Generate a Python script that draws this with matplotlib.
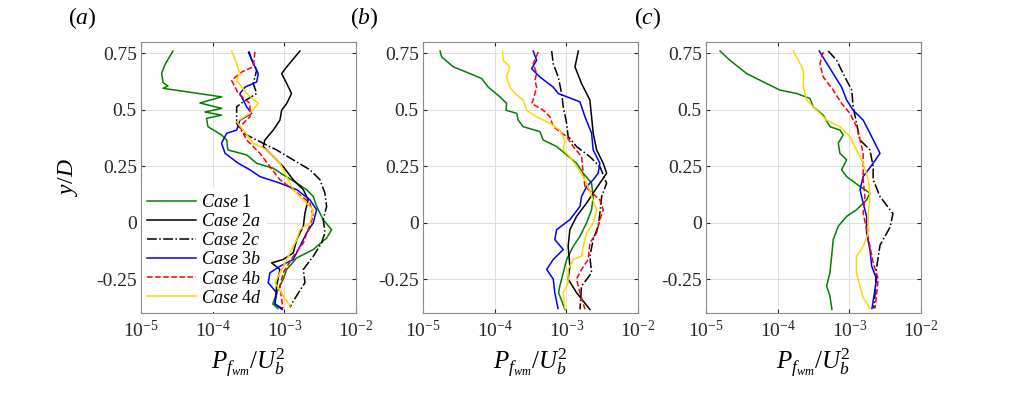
import numpy as np
import matplotlib
matplotlib.use('Agg')
import matplotlib.pyplot as plt
import matplotlib.ticker as ticker

# %%
plt.rcParams['font.family'] = ['Liberation Serif', 'DejaVu Serif']
plt.rcParams['mathtext.fontset'] = 'custom'
plt.rcParams['mathtext.rm'] = 'Liberation Serif'
plt.rcParams['mathtext.it'] = 'Liberation Serif:italic'
plt.rcParams['mathtext.bf'] = 'Liberation Serif:bold'
plt.rcParams['axes.unicode_minus'] = False

# %% data, P values in units of 1e-3
# panel (a)
a_y1 = [0.76, 0.70, 0.66, 0.62, 0.605, 0.595, 0.557, 0.53, 0.506, 0.49, 0.476, 0.462, 0.425, 0.388, 0.366,
        0.322, 0.30, 0.263, 0.241, 0.212, 0.175, 0.146, 0.116, 0.072, 0.013, -0.031, -0.068, -0.119, -0.156,
        -0.207, -0.25, -0.30, -0.36, -0.38]
a_p1 = [0.0279, 0.0216, 0.0194, 0.0203, 0.0238, 0.0203, 0.1335, 0.0665, 0.1335, 0.078, 0.133, 0.082, 0.086,
        0.133, 0.157, 0.163, 0.298, 0.411, 0.70, 0.965, 1.49, 2.05, 2.53, 2.82, 3.49, 4.57, 3.89, 2.53, 1.49,
        1.08, 0.965, 0.81, 0.69, 0.81]
a_y2a = [0.76, 0.69, 0.66, 0.616, 0.572, 0.528, 0.498, 0.454, 0.41, 0.366, 0.337, 0.30, 0.248, 0.19, 0.146,
         0.101, 0.043, -0.016, -0.075, -0.134, -0.163, -0.178, -0.207, -0.281, -0.36, -0.384]
a_p2a = [1.65, 1.08, 0.917, 1.08, 1.26, 1.08, 0.917, 0.868, 0.70, 0.536, 0.508, 0.665, 0.965, 1.33, 1.84,
         2.15, 1.94, 1.84, 1.49, 1.33, 0.965, 0.665, 0.868, 0.78, 0.74, 0.93]
a_y2c = [0.756, 0.675, 0.616, 0.572, 0.535, 0.513, 0.44, 0.396, 0.366, 0.322, 0.278, 0.234, 0.19, 0.131,
         0.072, 0.013, -0.045, -0.09, -0.149, -0.207, -0.266, -0.30, -0.35, -0.375]
a_p2c = [0.314, 0.411, 0.368, 0.411, 0.267, 0.216, 0.216, 0.267, 0.411, 0.78, 1.33, 2.28, 3.14, 3.68, 3.89,
         3.49, 3.68, 3.31, 2.53, 1.84, 1.94, 1.65, 1.32, 1.20]
a_y3b = [0.756, 0.72, 0.66, 0.623, 0.60, 0.572, 0.513, 0.484, 0.454, 0.41, 0.396, 0.352, 0.307, 0.263, 0.234,
         0.204, 0.175, 0.146, 0.101, 0.057, -0.001, -0.045, -0.105, -0.163, -0.193, -0.222, -0.266, -0.31,
         -0.36, -0.38]
a_p3b = [0.324, 0.35, 0.433, 0.411, 0.282, 0.24, 0.298, 0.35, 0.24, 0.216, 0.157, 0.133, 0.149, 0.228, 0.331,
         0.457, 0.868, 1.49, 2.28, 2.82, 2.53, 2.05, 1.65, 1.33, 0.868, 0.63, 0.596, 0.78, 0.74, 0.93]
a_y4b = [0.756, 0.69, 0.667, 0.63, 0.572, 0.528, 0.469, 0.425, 0.366, 0.307, 0.248, 0.19, 0.146, 0.087, 0.028,
         -0.031, -0.09, -0.149, -0.222, -0.281, -0.38]
a_p4b = [0.389, 0.368, 0.254, 0.184, 0.228, 0.331, 0.331, 0.24, 0.298, 0.457, 0.63, 0.868, 1.33, 2.28, 2.53,
         2.15, 1.84, 1.33, 0.965, 0.868, 0.955]
a_y4d = [0.76, 0.704, 0.66, 0.63, 0.572, 0.528, 0.484, 0.447, 0.41, 0.352, 0.322, 0.263, 0.204, 0.146, 0.101,
         0.057, -0.001, -0.031, -0.075, -0.134, -0.222, -0.266, -0.37]
a_p4d = [0.184, 0.216, 0.24, 0.216, 0.298, 0.433, 0.331, 0.216, 0.267, 0.368, 0.566, 0.868, 1.08, 1.33, 1.84,
         2.53, 2.28, 1.65, 1.49, 1.20, 0.868, 0.74, 1.20]

# panel (b)
b_y1 = [0.76, 0.734, 0.69, 0.66, 0.638, 0.60, 0.557, 0.528, 0.498, 0.484, 0.454, 0.425, 0.403, 0.366, 0.337,
        0.30, 0.263, 0.219, 0.175, 0.116, 0.057, -0.001, -0.06, -0.105, -0.163, -0.222, -0.281, -0.31, -0.384]
b_p1 = [0.0173, 0.0182, 0.0265, 0.0453, 0.0659, 0.0815, 0.1186, 0.147, 0.144, 0.203, 0.213, 0.25, 0.428, 0.476,
        0.732, 1.01, 1.39, 1.72, 2.25, 2.37, 2.25, 1.92, 1.55, 1.25, 1.01, 0.906, 0.81, 0.78, 0.955]
b_y2a = [0.76, 0.69, 0.616, 0.543, 0.469, 0.396, 0.322, 0.263, 0.219, 0.175, 0.131, 0.087, 0.028, -0.031,
         -0.105, -0.193, -0.25, -0.31, -0.384]
b_p2a = [1.47, 1.32, 1.63, 2.13, 2.25, 2.37, 2.65, 3.27, 3.65, 2.94, 2.37, 1.92, 1.39, 1.12, 1.06, 1.12, 1.06,
         1.39, 2.13]
b_y2c = [0.76, 0.704, 0.645, 0.572, 0.513, 0.44, 0.381, 0.337, 0.292, 0.248, 0.175, 0.116, 0.043, -0.016,
         -0.075, -0.149, -0.222, -0.281, -0.384]
b_p2c = [0.624, 0.657, 0.771, 0.86, 0.906, 1.01, 1.06, 1.39, 2.13, 2.94, 3.65, 3.11, 2.94, 2.78, 2.37, 2.13,
         2.25, 1.63, 1.55]
b_y3b = [0.76, 0.719, 0.682, 0.645, 0.60, 0.572, 0.535, 0.469, 0.396, 0.322, 0.263, 0.219, 0.19, 0.16, 0.116,
         0.072, 0.013, -0.031, -0.075, -0.119, -0.163, -0.207, -0.25, -0.31, -0.38]
b_p3b = [0.345, 0.385, 0.328, 0.428, 0.657, 0.771, 1.55, 1.82, 2.25, 2.37, 2.94, 2.78, 2.37, 1.92, 1.63, 1.55,
         1.12, 0.732, 0.69, 0.906, 0.657, 0.531, 0.657, 0.69, 0.765]
b_y4b = [0.756, 0.704, 0.66, 0.63, 0.60, 0.543, 0.528, 0.498, 0.469, 0.425, 0.381, 0.337, 0.292, 0.219, 0.16,
         0.101, 0.057, 0.013, -0.045, -0.09, -0.163, -0.207, -0.25, -0.31, -0.384]
b_p4b = [0.405, 0.345, 0.385, 0.365, 0.385, 0.345, 0.328, 0.476, 0.59, 0.657, 1.01, 1.25, 1.63, 1.72, 1.82,
         2.94, 3.27, 2.94, 2.65, 2.13, 2.02, 1.63, 1.39, 1.55, 1.82]
b_y4d = [0.76, 0.719, 0.69, 0.645, 0.60, 0.572, 0.543, 0.498, 0.469, 0.44, 0.41, 0.366, 0.322, 0.292, 0.248,
         0.204, 0.16, 0.116, 0.057, -0.001, -0.045, -0.105, -0.149, -0.163, -0.207, -0.266, -0.31, -0.38]
b_p4d = [0.129, 0.131, 0.163, 0.147, 0.163, 0.192, 0.25, 0.279, 0.385, 0.59, 0.81, 0.955, 0.906, 1.12, 1.39,
         1.72, 2.02, 2.25, 2.65, 2.37, 1.92, 1.72, 1.63, 1.25, 1.06, 1.06, 0.906, 0.955]

# panel (c)
c_y1 = [0.76, 0.719, 0.66, 0.616, 0.587, 0.572, 0.55, 0.513, 0.476, 0.425, 0.41, 0.388, 0.352, 0.307, 0.278,
        0.234, 0.204, 0.16, 0.131, 0.101, 0.057, 0.028, -0.016, -0.075, -0.149, -0.222, -0.281, -0.325, -0.384]
c_p1 = [0.0157, 0.0216, 0.037, 0.0703, 0.1077, 0.184, 0.282, 0.314, 0.433, 0.536, 0.74, 0.82, 0.70, 0.74,
        0.917, 0.78, 0.917, 1.41, 1.94, 1.74, 1.26, 0.917, 0.70, 0.596, 0.566, 0.536, 0.482, 0.536, 0.571]
c_y2c = [0.76, 0.719, 0.66, 0.587, 0.513, 0.44, 0.366, 0.322, 0.248, 0.19, 0.116, 0.04, -0.02, -0.1, -0.2,
         -0.3, -0.38]
c_p2c = [0.508, 0.665, 0.82, 1.08, 1.13, 1.26, 1.41, 1.94, 2.15, 2.15, 2.68, 4.06, 3.7, 2.68, 2.4, 2.3, 2.2]
c_y3b = [0.76, 0.719, 0.66, 0.60, 0.543, 0.498, 0.454, 0.41, 0.337, 0.307, 0.263, 0.204, 0.146, 0.087, 0.028,
         -0.045, -0.119, -0.193, -0.25, -0.38]
c_p3b = [0.38, 0.457, 0.596, 0.78, 0.917, 1.13, 1.56, 1.84, 2.40, 2.68, 2.15, 1.56, 1.41, 1.56, 1.74, 1.74,
         1.94, 2.05, 2.40, 2.07]
c_y4b = [0.756, 0.704, 0.645, 0.587, 0.528, 0.484, 0.425, 0.366, 0.307, 0.248, 0.19, 0.116, 0.043, -0.031,
         -0.105, -0.178, -0.25, -0.38]
c_p4b = [0.433, 0.389, 0.433, 0.596, 0.78, 1.02, 1.26, 1.41, 1.56, 1.56, 1.56, 1.65, 1.56, 1.74, 1.94, 2.15,
         2.53, 2.28]
c_y4d = [0.76, 0.719, 0.675, 0.60, 0.543, 0.513, 0.454, 0.425, 0.381, 0.322, 0.263, 0.19, 0.116, 0.043, -0.045,
         -0.105, -0.149, -0.222, -0.281, -0.33, -0.38]
c_p4d = [0.165, 0.194, 0.228, 0.228, 0.254, 0.314, 0.482, 0.74, 1.02, 1.26, 1.56, 1.84, 1.94, 1.84, 1.84, 1.56,
         1.26, 1.26, 1.41, 1.55, 1.94]

yticks = [-0.25, 0, 0.25, 0.5, 0.75]
ytick_labels = ['-0.25', '0', '0.25', '0.5', '0.75']

# %% styles
green = (0, 0.5, 0)
yellow = (1, 0.84, 0)
sty = {
    '1': dict(color=green, ls='-', label=r'$Case$ 1'),
    '2a': dict(color='k', ls='-', label=r'$Case$ 2$a$'),
    '2c': dict(color='k', ls='-.', label=r'$Case$ 2$c$'),
    '3b': dict(color='b', ls='-', label=r'$Case$ 3$b$'),
    '4b': dict(color='r', ls='--', label=r'$Case$ 4$b$'),
    '4d': dict(color=yellow, ls='-', label=r'$Case$ 4$d$'),
}

panels = [
    [('1', a_p1, a_y1), ('2a', a_p2a, a_y2a), ('2c', a_p2c, a_y2c), ('3b', a_p3b, a_y3b),
     ('4b', a_p4b, a_y4b), ('4d', a_p4d, a_y4d)],
    [('1', b_p1, b_y1), ('2a', b_p2a, b_y2a), ('2c', b_p2c, b_y2c), ('3b', b_p3b, b_y3b),
     ('4b', b_p4b, b_y4b), ('4d', b_p4d, b_y4d)],
    [('1', c_p1, c_y1), ('2c', c_p2c, c_y2c), ('3b', c_p3b, c_y3b),
     ('4b', c_p4b, c_y4b), ('4d', c_p4d, c_y4d)],
]
letters = ['a', 'b', 'c']

# %%
fig = plt.figure(figsize=(10.28, 3.94), dpi=100)
W, H = 1028, 394
lefts = [141, 423, 706]
for i, (left, curves) in enumerate(zip(lefts, panels)):
    ax = fig.add_axes([left / W, 1 - 313 / H, 215 / W, 271 / H])
    for key, p, y in curves:
        s = sty[key]
        ax.plot(np.array(p) * 1e-3, y, color=s['color'], ls=s['ls'], lw=1.1, label=s['label'])
    ax.set_xscale('log')
    ax.set_xlim(1e-5, 1e-2)
    ax.set_ylim(-0.4, 0.8)
    ax.set_xticks([1e-5, 1e-4, 1e-3, 1e-2])
    ax.xaxis.set_minor_locator(ticker.LogLocator(base=10, subs=np.arange(2, 10)))
    ax.xaxis.set_minor_formatter(ticker.NullFormatter())
    ax.set_yticks(yticks)
    ax.set_yticklabels(ytick_labels)
    ax.tick_params(which='both', direction='in', top=True, right=True, labelsize=14, colors='#262626')
    ax.tick_params(axis='y', pad=3)
    ax.tick_params(axis='x', pad=5)
    ax.tick_params(which='major', length=3)
    ax.tick_params(which='minor', length=2)
    ax.grid(True, which='major', color='#dedede', lw=0.7)
    ax.grid(True, which='minor', axis='x', color='#eeeeee', lw=0.6)
    ax.set_axisbelow(True)
    for sp in ax.spines.values():
        sp.set_color('#8c8c8c')
        sp.set_linewidth(0.8)
    ax.set_xlabel(r'$P_{f_{wm}}/U_b^2$', fontsize=18, labelpad=4)
    fig.text(left / W - 0.057, 1 - 18 / H, r'($%s$)' % letters[i], fontsize=17, ha='center', va='center')
    if i == 0:
        ax.set_ylabel(r'$y/D$', fontsize=17, labelpad=12)
        leg = ax.legend(loc='lower left', fontsize=13, frameon=True, fancybox=False, framealpha=1,
                        edgecolor='none', handlelength=2.7, handletextpad=0.25, labelspacing=0.12,
                        borderpad=0.3, borderaxespad=0.05)

plt.savefig('out.png', dpi=100)
